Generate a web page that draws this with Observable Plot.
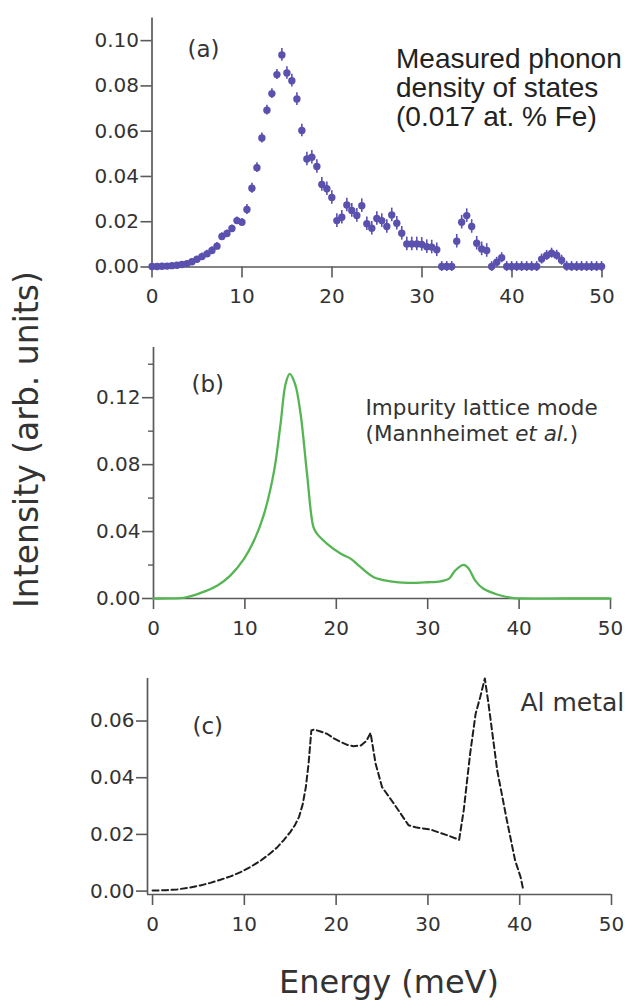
<!DOCTYPE html>
<html><head><meta charset="utf-8">
<script src="https://cdn.jsdelivr.net/npm/d3@7"></script>
<script src="https://cdn.jsdelivr.net/npm/@observablehq/plot@0.6"></script>
<style>
body{margin:0;background:#fff;}
#wrap{position:relative;width:634px;height:1001px;overflow:hidden;background:#fff;}
#wrap svg{position:absolute;left:0;overflow:visible;}
.lab{position:absolute;white-space:nowrap;color:#333;font-family:"DejaVu Sans";}
</style></head><body>
<div id="wrap"></div>
<script>
// ---------- Panel (a): measured phonon DOS ----------
const energyA = [0, 0.56, 1.11, 1.67, 2.22, 2.78, 3.33, 3.89, 4.44, 5.0, 5.55, 6.11, 6.66, 7.22, 7.77, 8.33, 8.88, 9.44, 9.99, 10.55,
  11.1, 11.66, 12.21, 12.77, 13.32, 13.88, 14.43, 14.99, 15.54, 16.1, 16.65, 17.21, 17.76, 18.32, 18.87, 19.43, 19.98, 20.54, 21.09, 21.65,
  22.2, 22.76, 23.31, 23.87, 24.42, 24.98, 25.53, 26.09, 26.64, 27.2, 27.75, 28.31, 28.86, 29.42, 29.97, 30.53, 31.08, 31.64, 32.19, 32.75,
  33.3, 33.86, 34.41, 34.97, 35.52, 36.08, 36.63, 37.19, 37.74, 38.3, 38.85, 39.41, 39.96, 40.52, 41.07, 41.63, 42.18, 42.74, 43.29, 43.85,
  44.4, 44.96, 45.51, 46.07, 46.62, 47.18, 47.73, 48.29, 48.84, 49.4, 49.95];
const intensityA = [0.0002, 0.0002, 0.0003, 0.0004, 0.0006, 0.0008, 0.0011, 0.0015, 0.0023, 0.0034, 0.0046, 0.0058, 0.0073, 0.0092, 0.0135, 0.0148, 0.0170, 0.0205, 0.0198, 0.0254,
  0.0348, 0.0439, 0.0570, 0.0693, 0.0766, 0.0850, 0.0937, 0.0857, 0.0823, 0.0742, 0.0603, 0.0477, 0.0485, 0.0444, 0.0365, 0.0346, 0.0307, 0.0205, 0.0220, 0.0274,
  0.0250, 0.0228, 0.0271, 0.0191, 0.0171, 0.0214, 0.0205, 0.0179, 0.0230, 0.0193, 0.0149, 0.0102, 0.0102, 0.0102, 0.0100, 0.0090, 0.0088, 0.0076, 0.0002, 0.0002,
  0.0002, 0.0114, 0.0198, 0.0227, 0.0179, 0.0105, 0.0080, 0.0073, 0.0002, 0.0021, 0.0041, 0.0002, 0.0002, 0.0002, 0.0002, 0.0002, 0.0002, 0.0002, 0.0035, 0.0051,
  0.0061, 0.0052, 0.0030, 0.0003, 0.0002, 0.0002, 0.0002, 0.0002, 0.0002, 0.0002, 0.0002];
const errorA = [0.0012, 0.0012, 0.0012, 0.0012, 0.0012, 0.0012, 0.0012, 0.0012, 0.0012, 0.0012, 0.0016, 0.0016, 0.0016, 0.0016, 0.0016, 0.0016, 0.0016, 0.0016, 0.0016, 0.0022,
  0.0022, 0.0022, 0.0022, 0.0022, 0.0022, 0.0022, 0.0028, 0.0028, 0.0028, 0.0028, 0.0028, 0.0030, 0.0030, 0.0030, 0.0030, 0.0030, 0.0030, 0.0030, 0.0030, 0.0030,
  0.0030, 0.0030, 0.0030, 0.0030, 0.0030, 0.0030, 0.0030, 0.0030, 0.0030, 0.0030, 0.0030, 0.0030, 0.0030, 0.0030, 0.0030, 0.0030, 0.0030, 0.0030, 0.0022, 0.0022,
  0.0022, 0.0030, 0.0030, 0.0030, 0.0030, 0.0030, 0.0030, 0.0030, 0.0022, 0.0022, 0.0022, 0.0022, 0.0022, 0.0022, 0.0022, 0.0022, 0.0022, 0.0022, 0.0022, 0.0022,
  0.0022, 0.0022, 0.0022, 0.0022, 0.0022, 0.0022, 0.0022, 0.0022, 0.0022, 0.0022, 0.0022];

// ---------- Panel (b): impurity lattice mode ----------
const energyB = [0, 2, 3.3, 5.1, 7.0, 8.4, 9.9, 11.0, 12.1, 13.2, 13.9, 14.45, 14.9, 15.5, 16.1, 16.8, 17.5, 17.9, 19.0, 20.5,
  21.6, 22.6, 24.1, 25.9, 27.8, 30.0, 31.4, 32.3, 33.0, 33.95, 34.5, 35.2, 36.1, 37.6, 39.4, 40.2, 45, 50];
const intensityB = [0, 0.0001, 0.0004, 0.0032, 0.0078, 0.0137, 0.0237, 0.0346, 0.0506, 0.0764, 0.1043, 0.1282, 0.1342, 0.1280, 0.1100, 0.0744, 0.0426, 0.0386, 0.0327, 0.0267,
  0.0237, 0.0190, 0.0127, 0.0103, 0.0093, 0.0097, 0.0103, 0.0117, 0.0167, 0.0201, 0.0177, 0.0107, 0.0058, 0.0024, 0.0002, 0, 0, 0];

// ---------- Panel (c): Al metal ----------
const energyC = [0, 1.5, 2.7, 4, 5.2, 6.3, 7.4, 8.5, 9.6, 10.7, 11.8, 12.7, 13.6, 14.3, 15.0, 15.5, 15.95, 16.35, 16.7, 17.0,
  17.3, 17.6, 18.3, 19.0, 19.8, 20.5, 21.2, 21.9, 22.7, 23.3, 23.75, 24.3, 25.0, 26.3, 27.9, 28.8, 30.3, 32.1, 33.4, 33.9,
  34.6, 35.2, 35.7, 36.2, 36.6, 37.55, 38.6, 39.5, 40.1, 40.4];
const intensityC = [0.0002, 0.0003, 0.0006, 0.0012, 0.0020, 0.0029, 0.0040, 0.0052, 0.0067, 0.0086, 0.0108, 0.0130, 0.0155, 0.0180, 0.0208, 0.0232, 0.0261, 0.0305, 0.0367, 0.0450,
  0.0567, 0.0570, 0.0563, 0.0555, 0.0538, 0.0526, 0.0516, 0.0511, 0.0514, 0.0530, 0.0558, 0.0450, 0.0367, 0.0308, 0.0232, 0.0224, 0.0217, 0.0197, 0.0181, 0.0285,
  0.0485, 0.0626, 0.0685, 0.0750, 0.0661, 0.0426, 0.0250, 0.0108, 0.0049, 0.0002];

// ---------- ticks & labels ----------
const xTicks = [0, 10, 20, 30, 40, 50];
const yTicksA = [0, 0.02, 0.04, 0.06, 0.08, 0.10];
const yTicksB = [0, 0.04, 0.08, 0.12];
const yMinorB = [0.02, 0.06, 0.10, 0.14];
const yTicksC = [0, 0.02, 0.04, 0.06];
const labelA = "(a)", labelB = "(b)", labelC = "(c)";
const noteA = "Measured phonon\ndensity of states\n(0.017 at. % Fe)";
const noteB = "Impurity lattice mode\n(Mannheimet et al.)";
const noteC = "Al metal";
const xTitle = "Energy (meV)";
const yTitle = "Intensity (arb. units)";

const dataA = energyA.map((E, i) => ({E, v: intensityA[i], e: errorA[i]}));
const dataB = energyB.map((E, i) => ({E, v: intensityB[i]}));
const dataC = energyC.map((E, i) => ({E, v: intensityC[i]}));

const axisCol = "#5a5a5a", textCol = "#333", font = "DejaVu Sans";
const fmt2 = d3.format(".2f");
const baseStyle = {fontFamily: font, fontSize: "20px", color: textCol, background: "transparent", overflow: "visible"};

function axes(xDom, yDom, yTicks, extra = []) {
  return [
    Plot.ruleY([yDom[0]], {stroke: axisCol, strokeWidth: 1.7}),
    Plot.ruleX([xDom[0]], {stroke: axisCol, strokeWidth: 1.7}),
    Plot.axisY({ticks: yTicks, tickSize: 11, tickPadding: 2, tickFormat: fmt2, label: null, stroke: axisCol, fill: textCol, strokeWidth: 1.6, fontSize: 20}),
    ...extra,
    Plot.axisX({ticks: xTicks, tickSize: 11, tickPadding: 11, tickFormat: d3.format("d"), label: null, stroke: axisCol, fill: textCol, strokeWidth: 1.6, fontSize: 20})
  ];
}

const wrap = document.getElementById("wrap");

// Panel (a)
const xDomA = [0, 50], yDomA = [0, 0.11];
const plotA = Plot.plot({
  width: 634, height: 320, marginTop: 17.5, marginBottom: 53.5, marginLeft: 151.5, marginRight: 32.5,
  style: baseStyle,
  x: {domain: xDomA, label: null}, y: {domain: yDomA, label: null},
  marks: [
    ...axes(xDomA, yDomA, yTicksA),
    Plot.ruleX(dataA, {x: "E", y1: d => d.v - d.e, y2: d => d.v + d.e, stroke: "#5a51ae", strokeWidth: 1.6}),
    Plot.dot(dataA, {x: "E", y: "v", r: 3.7, fill: "#5a51ae", stroke: "none"}),
    Plot.text([labelA], {frameAnchor: "top-left", dx: 35.5, dy: 22.5, lineAnchor: "top", textAnchor: "start", fontSize: 23, fill: textCol}),
    Plot.text([noteA], {frameAnchor: "top-left", dx: 244, dy: 30, lineAnchor: "top", textAnchor: "start", fontSize: 28, lineHeight: 1.03, fontFamily: "Liberation Sans", fill: "#222"})
  ]
});
plotA.style.top = "0px";
wrap.appendChild(plotA);

// Panel (b)
const xDomB = [0, 50], yDomB = [0, 0.15];
const plotB = Plot.plot({
  width: 634, height: 330, marginTop: 17, marginBottom: 62, marginLeft: 153, marginRight: 24,
  style: baseStyle,
  x: {domain: xDomB, label: null}, y: {domain: yDomB, label: null},
  marks: [
    ...axes(xDomB, yDomB, yTicksB, [Plot.axisY({ticks: yMinorB, tickSize: 5, tickFormat: () => "", label: null, stroke: axisCol, strokeWidth: 1.4})]),
    Plot.line(dataB, {x: "E", y: "v", stroke: "#55b553", strokeWidth: 2.3, curve: "catmull-rom"}),
    Plot.text([labelB], {frameAnchor: "top-left", dx: 38, dy: 28, lineAnchor: "top", textAnchor: "start", fontSize: 23, fill: textCol}),
    Plot.text([noteB], {frameAnchor: "top-left", dx: 212, dy: 48, lineAnchor: "top", textAnchor: "start", fontSize: 21.5, lineHeight: 1.25, fill: textCol})
  ]
});
plotB.style.top = "330px";
wrap.appendChild(plotB);
// italic "et al." in the citation line
d3.select(plotB).selectAll("tspan").filter(function() { return this.textContent === "(Mannheimet et al.)"; }).each(function() {
  const t = d3.select(this);
  t.text(null);
  t.append("tspan").text("(Mannheimet ");
  t.append("tspan").attr("font-style", "italic").text("et al.");
  t.append("tspan").text(")");
});

// Panel (c)
const xDomC = [-0.55, 50], yDomC = [-0.0012, 0.075];
const plotC = Plot.plot({
  width: 634, height: 280, marginTop: 13, marginBottom: 51, marginLeft: 147, marginRight: 23,
  style: baseStyle,
  x: {domain: xDomC, label: null}, y: {domain: yDomC, label: null},
  marks: [
    ...axes(xDomC, yDomC, yTicksC),
    Plot.line(dataC, {x: "E", y: "v", stroke: "#1e1e1e", strokeWidth: 2, strokeDasharray: "6,3.5", curve: "linear"}),
    Plot.text([labelC], {frameAnchor: "top-left", dx: 45, dy: 39, lineAnchor: "top", textAnchor: "start", fontSize: 23, fill: textCol}),
    Plot.text([noteC], {frameAnchor: "top-left", dx: 373, dy: 15, lineAnchor: "top", textAnchor: "start", fontSize: 25, fill: textCol})
  ]
});
plotC.style.top = "665px";
wrap.appendChild(plotC);

// Shared axis titles
const xt = document.createElement("div");
xt.className = "lab";
xt.textContent = xTitle;
Object.assign(xt.style, {fontSize: "32px", lineHeight: "32px", width: "400px", textAlign: "center", left: (389 - 200) + "px", top: "966px"});
wrap.appendChild(xt);

const yt = document.createElement("div");
yt.className = "lab";
yt.textContent = yTitle;
Object.assign(yt.style, {fontSize: "33px", lineHeight: "33px", width: "500px", height: "33px", textAlign: "center",
  left: (25.6 - 250) + "px", top: (439 - 16.5) + "px", transform: "rotate(-90deg)", transformOrigin: "50% 50%"});
wrap.appendChild(yt);
</script>
</body></html>
